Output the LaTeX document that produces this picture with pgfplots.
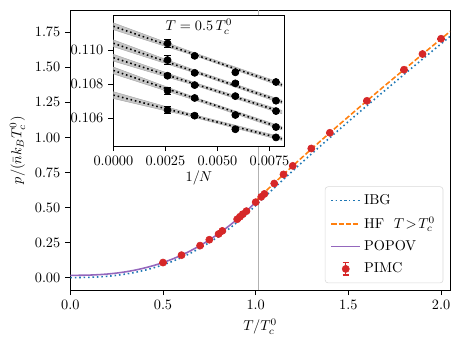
\documentclass[border=0pt]{standalone}
\usepackage{pgfplots}
\pgfplotsset{compat=1.18}
\definecolor{tabblue}{RGB}{31,119,180}
\definecolor{taborange}{RGB}{255,127,14}
\definecolor{tabpurple}{RGB}{148,103,189}
\definecolor{tabred}{RGB}{214,39,40}
\begin{document}
\begin{tikzpicture}
\path[use as bounding box] (-49.2pt,-40pt) rectangle (274.7pt,203pt);
\begin{axis}[
  at={(0,0)}, anchor=south west, scale only axis,
  width=265.7pt, height=196pt,
  xmin=0, xmax=2.049, ymin=-0.09, ymax=1.909,
  xtick={0,0.5,1,1.5,2},
  ytick={0,0.25,0.5,0.75,1,1.25,1.5,1.75},
  xticklabel style={/pgf/number format/.cd, fixed, fixed zerofill, precision=1},
  yticklabel style={/pgf/number format/.cd, fixed, fixed zerofill, precision=2},
  tick align=outside, tick pos=left, major tick length=3.5pt,
  axis line style={line width=0.6pt}, tick style={line width=0.6pt, black},
  xlabel={$T/T_c^0$}, ylabel={$p/(\bar{n}k_BT_c^0)$},
  legend cell align=left,
  legend style={at={(0.982,0.025)}, anchor=south east, draw=black!15, rounded corners=2pt,
    row sep=3pt, inner sep=3.5pt},
]
\addplot[gray!60, line width=0.9pt, forget plot] coordinates {(1.015,-0.09) (1.015,1.909)};
% IBG
\addplot[color=tabblue, dotted, line width=1.1pt, smooth,
  legend image code/.code={\draw[draw=tabblue, dotted, line width=1.1pt] plot coordinates {(0cm,0cm) (0.72cm,0cm)};}] coordinates {
(0,0) (0.05,0.000287) (0.1,0.00162) (0.15,0.00447) (0.2,0.00918) (0.25,0.01604)
(0.3,0.02531) (0.35,0.03721) (0.4,0.05195) (0.45,0.06974) (0.5,0.09076) (0.55,0.11518)
(0.6,0.14316) (0.65,0.17488) (0.7,0.21047) (0.75,0.25010) (0.8,0.29389) (0.85,0.34198)
(0.9,0.39451) (0.95,0.45161) (1.0,0.5134) (1.05,0.5772) (1.1,0.6397) (1.2,0.7617)
(1.3,0.8810) (1.4,0.9977) (1.5,1.1126) (1.6,1.2259) (1.7,1.3378) (1.8,1.4486)
(1.9,1.5586) (2.0,1.6676) (2.05,1.7220)};
\addlegendentry{IBG}
% HF
\addplot[color=taborange, dash pattern=on 3.7pt off 1.6pt, line width=1.1pt, smooth,
  legend image code/.code={\draw[draw=taborange, color=taborange, dash pattern=on 3.5pt off 1.7pt, line width=1.3pt] plot coordinates {(0cm,0.02pt) (0.72cm,0.02pt)};}] coordinates {
(1.0,0.5464) (1.05,0.6105) (1.1,0.6737) (1.2,0.7967) (1.3,0.9160) (1.4,1.0327)
(1.5,1.1476) (1.6,1.2609) (1.7,1.3728) (1.8,1.4836) (1.9,1.5936) (2.0,1.7026) (2.05,1.7570)};
\addlegendentry{HF\ \ $T\!>\!T_c^0$}
% POPOV
\addplot[color=tabpurple, line width=1.1pt, smooth,
  legend image code/.code={\draw[draw=tabpurple, line width=1.1pt] plot coordinates {(0cm,0cm) (0.72cm,0cm)};}] coordinates {
(0,0.0160) (0.05,0.0163) (0.1,0.0176) (0.15,0.0205) (0.2,0.0252) (0.25,0.0321)
(0.3,0.0414) (0.35,0.0534) (0.4,0.0682) (0.45,0.0861) (0.5,0.1073) (0.55,0.1317)
(0.6,0.1602) (0.65,0.1923) (0.7,0.2284) (0.75,0.2686) (0.8,0.3132) (0.85,0.3621)
(0.9,0.4158) (0.95,0.4741) (1.0,0.5374)};
\addlegendentry{POPOV}
% PIMC
\addplot[only marks, mark=*, mark size=2.5pt, color=tabred,
  legend image code/.code={
    \draw[draw=tabred, line width=0.8pt] (0.36cm,-0.15cm) -- (0.36cm,0.15cm)
      (0.28cm,-0.15cm) -- (0.44cm,-0.15cm) (0.28cm,0.15cm) -- (0.44cm,0.15cm);
    \fill[fill=tabred] (0.36cm,0cm) circle (2.5pt);},
  error bars/.cd, y dir=both, y explicit,
  error bar style={line width=0.8pt, tabred}]
  table[x=x, y=y, y error=e] {
x y e
0.5 0.107 0.004
0.6 0.160 0.004
0.7 0.228 0.004
0.75 0.270 0.004
0.8 0.311 0.004
0.82 0.333 0.004
0.9 0.416 0.004
0.915 0.434 0.004
0.93 0.452 0.004
0.95 0.474 0.004
1.0 0.538 0.004
1.03 0.576 0.004
1.047 0.597 0.004
1.1 0.671 0.004
1.15 0.736 0.004
1.2 0.797 0.004
1.3 0.921 0.004
1.4 1.033 0.004
1.6 1.261 0.004
1.8 1.483 0.004
1.9 1.595 0.004
2.0 1.704 0.004
};
\addlegendentry{PIMC}
\end{axis}
% inset
\begin{axis}[
  at={(30.1pt,100.8pt)}, anchor=south west, scale only axis,
  width=119.7pt, height=91.2pt,
  xmin=0, xmax=0.00822, ymin=0.10435, ymax=0.11202,
  axis background/.style={fill=white},
  xtick={0,0.0025,0.005,0.0075}, ytick={0.106,0.108,0.110},
  scaled x ticks=false, scaled y ticks=false,
  xticklabel style={/pgf/number format/.cd, fixed, fixed zerofill, precision=4},
  yticklabel style={/pgf/number format/.cd, fixed, fixed zerofill, precision=3},
  tick align=outside, tick pos=left, major tick length=3.5pt,
  axis line style={line width=0.6pt}, tick style={line width=0.6pt, black},
  xlabel={$1/N$}, xlabel style={yshift=3pt},
]
% bands
\addplot[fill=black!22, draw=black!35, line width=0.3pt] coordinates {
(0,0.11160) (0.004,0.10979) (0.0081,0.10805) (0.0081,0.10785) (0.004,0.10963) (0,0.11120)} -- cycle;
\addplot[fill=black!22, draw=black!35, line width=0.3pt] coordinates {
(0,0.11060) (0.004,0.10878) (0.0081,0.10705) (0.0081,0.10685) (0.004,0.10862) (0,0.11020)} -- cycle;
\addplot[fill=black!22, draw=black!35, line width=0.3pt] coordinates {
(0,0.10975) (0.004,0.10805) (0.0081,0.10645) (0.0081,0.10625) (0.004,0.10789) (0,0.10935)} -- cycle;
\addplot[fill=black!22, draw=black!35, line width=0.3pt] coordinates {
(0,0.10900) (0.004,0.10718) (0.0081,0.10550) (0.0081,0.10530) (0.004,0.10702) (0,0.10860)} -- cycle;
\addplot[fill=black!22, draw=black!35, line width=0.3pt] coordinates {
(0,0.10755) (0.004,0.10616) (0.0081,0.10488) (0.0081,0.10468) (0.004,0.10600) (0,0.10715)} -- cycle;
% fit lines
\addplot[black, dotted, line width=1.1pt] coordinates {(0,0.1114) (0.0081,0.10795)};
\addplot[black, dotted, line width=1.1pt] coordinates {(0,0.1104) (0.0081,0.10695)};
\addplot[black, dotted, line width=1.1pt] coordinates {(0,0.10955) (0.0081,0.10635)};
\addplot[black, dotted, line width=1.1pt] coordinates {(0,0.1088) (0.0081,0.10540)};
\addplot[black, dotted, line width=1.1pt] coordinates {(0,0.10735) (0.0081,0.10478)};
% data
\addplot[only marks, mark=*, mark size=2.5pt, black,
  error bars/.cd, y dir=both, y explicit,
  error bar style={line width=0.8pt, black},
  error mark options={rotate=90, mark size=2.4pt, line width=0.8pt}]
  table[x=x, y=y, y error=e] {
x y e
0.0026042 0.11039 0.00025
0.0039063 0.10966 0.00010
0.00586 0.10869 0.00008
0.0078125 0.10812 0.00008
0.0026042 0.10941 0.00025
0.0039063 0.10866 0.00010
0.00586 0.10804 0.00008
0.0078125 0.10702 0.00008
0.0026042 0.10849 0.00012
0.0039063 0.10794 0.00010
0.00586 0.10729 0.00008
0.0078125 0.10641 0.00008
0.0026042 0.10761 0.00020
0.0039063 0.10718 0.00010
0.00586 0.10618 0.00008
0.0078125 0.10547 0.00008
0.0026042 0.10647 0.00020
0.0039063 0.10614 0.00010
0.00586 0.10534 0.00008
0.0078125 0.10486 0.00008
};
\node at (rel axis cs:0.5,0.915) {$T=0.5\,T_c^0$};
\end{axis}
\end{tikzpicture}
\end{document}
